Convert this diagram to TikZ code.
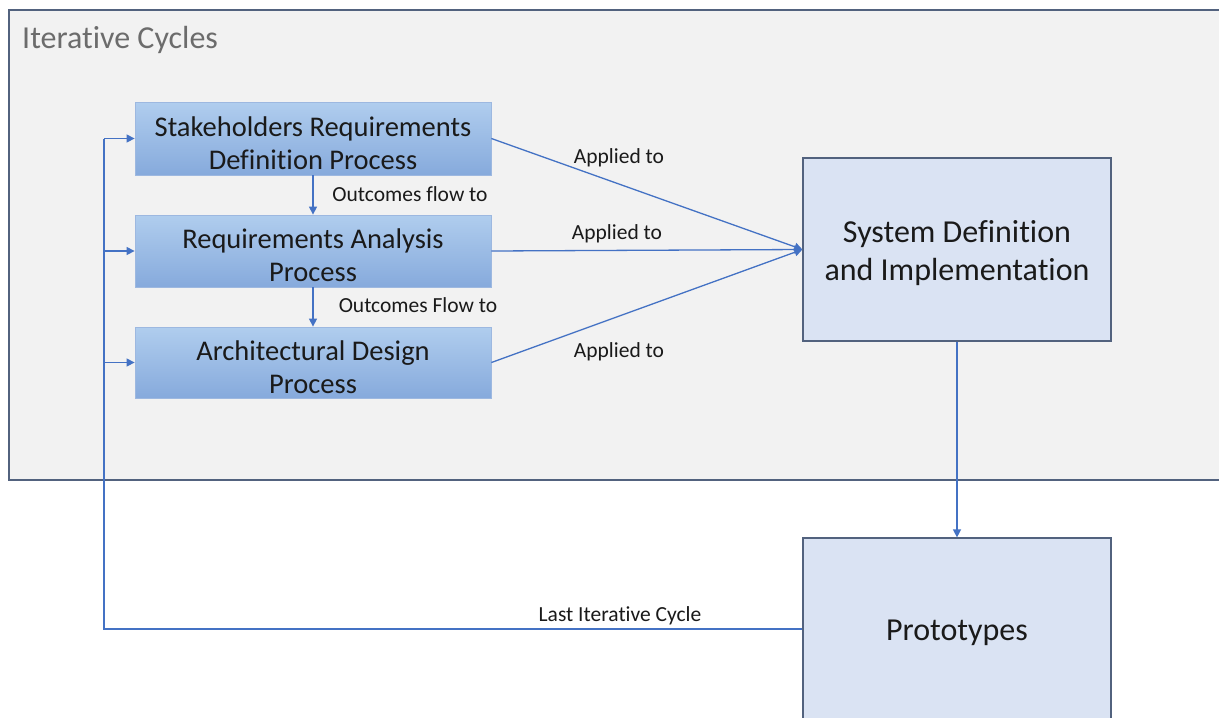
\documentclass[tikz,border=0pt]{standalone}
\usepackage{fontspec}
\setmainfont{Carlito}[Ligatures=NoCommon]
\usetikzlibrary{arrows.meta}
\definecolor{framefill}{HTML}{F2F2F2}
\definecolor{frameline}{HTML}{52627E}
\definecolor{arrowblue}{HTML}{4472C4}
\definecolor{boxtop}{HTML}{B0CDEE}
\definecolor{boxbot}{HTML}{86AADC}
\definecolor{boxline}{HTML}{9DB8E0}
\definecolor{sysfill}{HTML}{DAE3F3}
\definecolor{txt}{HTML}{1A1A1A}
\tikzset{
  procbox/.style={draw=boxline, line width=0.8pt, top color=boxtop, bottom color=boxbot,
    minimum width=356pt, minimum height=72pt, inner sep=0pt},
  proctext/.style={align=center, inner sep=0pt, text=txt, font=\fontsize{28.5}{33}\selectfont},
  bigbox/.style={draw=frameline, line width=1.2pt, fill=sysfill, minimum width=308pt, inner sep=0pt},
  bigtext/.style={align=center, inner sep=0pt, text=txt, font=\fontsize{32}{38}\selectfont},
  conn/.style={draw=arrowblue, line width=1.3pt, -{Triangle[width=8pt,length=8pt]}},
  lbl/.style={text=txt, font=\fontsize{21.5}{24}\selectfont, inner sep=0pt}
}
\begin{document}
\begin{tikzpicture}[x=1pt,y=-1pt]
\useasboundingbox (0,0) rectangle (1219,718);
\clip (0,0) rectangle (1219,718);
\fill[white] (0,0) rectangle (1219,718);
% frame
\draw[frameline, line width=1.3pt, fill=framefill] (9,10) rectangle (1240,480);
\node[anchor=west, inner sep=0pt, text=gray!85!black, font=\fontsize{32}{36}\selectfont] (title) at (22,40) {Iterative Cycles};
% process boxes
\node[procbox, minimum height=73pt] (b1) at (313,138.5) {};
\node[proctext] (b1t) at (313,143) {Stakeholders Requirements\\Definition Process};
\node[procbox] (b2) at (313,251) {};
\node[proctext] (b2t) at (313,255) {Requirements Analysis\\Process};
\node[procbox, minimum height=71pt] (b3) at (313,362.5) {};
\node[proctext] (b3t) at (313,367) {Architectural Design\\Process};
% system and prototypes
\node[bigbox, minimum height=183pt] (sys) at (957,249.5) {};
\node[bigtext] (syst) at (957,253) {System Definition\\and Implementation};
\node[bigbox, minimum height=186pt] (proto) at (957,631) {};
\node[bigtext] (protot) at (957,633) {Prototypes};
% flows between process boxes
\draw[conn] (b1.south) -- (b2.north);
\draw[conn] (b2.south) -- (b3.north);
\node[lbl] (l1) at (410,194) {Outcomes flow to};
\node[lbl] (l2) at (418,305) {Outcomes Flow to};
% applied to
\coordinate (sysin) at (sys.west);
\draw[conn] (b1.east) -- (sysin);
\draw[conn] (b2.east) -- (sysin);
\draw[conn] (b3.east) -- (sysin);
\node[lbl] (a1) at (619,158) {Applied to};
\node[lbl] (a2) at (617,234) {Applied to};
\node[lbl] (a3) at (619,352) {Applied to};
% system to prototypes
\draw[conn] (sys.south) -- (proto.north);
% feedback loop
\coordinate (fb) at (104,629);
\draw[draw=arrowblue, line width=1.3pt] (proto.west |- fb) -- (fb) -- (fb |- b1.west);
\draw[conn] (fb |- b1.west) -- (b1.west);
\draw[conn] (fb |- b2.west) -- (b2.west);
\draw[conn] (fb |- b3.west) -- (b3.west);
\node[lbl] (lc) at (620,616) {Last Iterative Cycle};
\end{tikzpicture}
\end{document}
